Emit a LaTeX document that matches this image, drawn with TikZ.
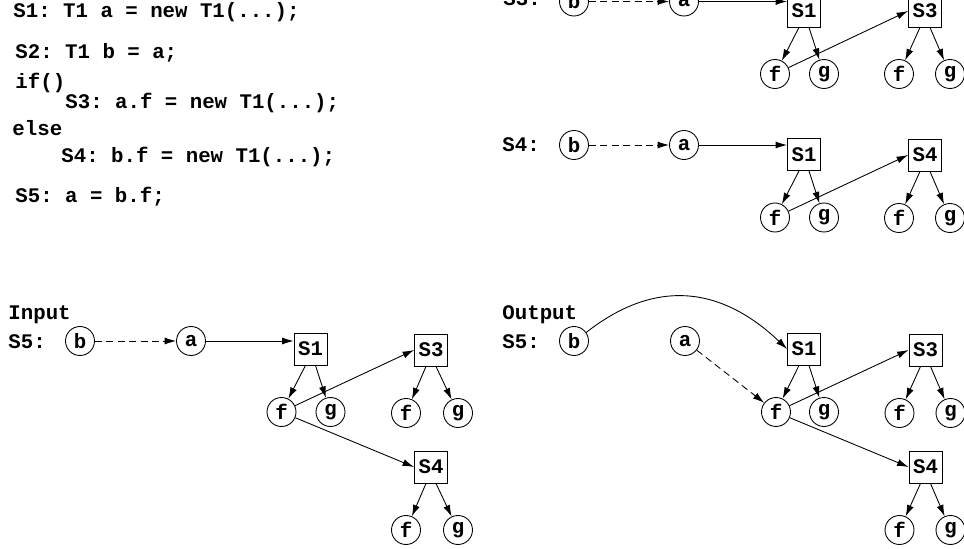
\documentclass[tikz,border=0pt]{standalone}
\usepackage{fontspec}
\setmonofont{Liberation Mono}
\usepackage{tikz}
\usetikzlibrary{arrows.meta,calc,positioning}

\tikzset{
  obj/.style={draw, rectangle, minimum width=0.66cm, minimum height=0.64cm, inner sep=0pt},
  var/.style={draw, circle, minimum size=0.58cm, inner sep=0pt},
  fld/.style={var},
  code/.style={anchor=west, inner sep=0pt},
  ref/.style={->},
  alias/.style={->, dash pattern=on 4pt off 2.5pt},
}

% object box with its two fields f and g hanging below
\newcommand{\heapobj}[5]{% name, label, box position, x offset of f, x offset of g
  \node[obj] (#1) at (#3) {#2};
  \node[fld] (#1f) at ($(#1)+(#4,63)$) {f};
  \node[fld] (#1g) at ($(#1)+(#5,63)$) {g};
  \draw[ref] ([xshift=-0.1cm]#1.south) -- (#1f);
  \draw[ref] ([xshift=0.1cm]#1.south) -- (#1g);
}

\begin{document}
\begin{tikzpicture}
      [ x=0.02cm, y=-0.02cm, line width=0.5pt,
        >={Latex[length=6.5pt,width=4pt]},
        every node/.style={font=\fontsize{11.8}{14}\selectfont\ttfamily\bfseries}
      ]
      \clip (0,0) rectangle (964,548);

      % the program
      \node[code] (l1) at (13,12)  {S1: T1 a = new T1(...);};
      \node[code] (l2) at (15,53)  {S2: T1 b = a;};
      \node[code] (l3) at (15,83)  {if()};
      \node[code] (l4) at (65,103) {S3: a.f = new T1(...);};
      \node[code] (l5) at (12,128) {else};
      \node[code] (l6) at (61,157) {S4: b.f = new T1(...);};
      \node[code] (l7) at (15,197) {S5: a = b.f;};

      % after S3
      \node[code] (tlbl) at (503,-1) {S3:};
      \node[var]  (tb)   at (574,1.5) {b};
      \node[var]  (ta)   at (684,1.5) {a};
      \heapobj{tA}{S1}{804,11}{-29}{20}
      \heapobj{tB}{S3}{925,11}{-26}{25}
      \draw[alias] (tb) -- (ta);
      \draw[ref]   (ta) -- (ta -| tA.west);
      \draw[ref]   (tAf) -- (tB.west);

      % after S4
      \node[code] (mlbl) at (502,145) {S4:};
      \node[var]  (mb)   at (574,145) {b};
      \node[var]  (ma)   at (684,145) {a};
      \heapobj{mA}{S1}{804,154.5}{-29}{20}
      \heapobj{mB}{S4}{925,155}{-26}{25}
      \draw[alias] (mb) -- (ma);
      \draw[ref]   (ma) -- (ma -| mA.west);
      \draw[ref]   (mAf) -- (mB.west);

      % input to S5
      \node[code] (ilbl) at (8,315) {Input};
      \node[code] (istm) at (8,342) {S5:};
      \node[var]  (ib)   at (80,341)  {b};
      \node[var]  (ia)   at (191,341) {a};
      \heapobj{iA}{S1}{310.5,349}{-29}{20}
      \heapobj{iB}{S3}{431,350}{-25}{27}
      \heapobj{iC}{S4}{431,467}{-25}{27}
      \draw[alias] (ib) -- (ia);
      \draw[ref]   (ia) -- (ia -| iA.west);
      \draw[ref]   (iAf) -- (iB.west);
      \draw[ref]   (iAf) -- (iC.west);

      % output of S5
      \node[code] (olbl) at (502,315) {Output};
      \node[code] (ostm) at (502,342) {S5:};
      \node[var]  (ob)   at (574,341) {b};
      \node[var]  (oa)   at (685,341) {a};
      \heapobj{oA}{S1}{804,349}{-28}{20}
      \heapobj{oB}{S3}{925.5,350}{-26}{25}
      \heapobj{oC}{S4}{925.5,467}{-26}{25}
      \draw[ref]   (ob.35) .. controls +(70,-55) and +(-65,-62) .. (oA.west);
      \draw[alias] (oa) -- (oAf);
      \draw[ref]   (oAf) -- (oB.west);
      \draw[ref]   (oAf) -- (oC.west);
\end{tikzpicture}
\end{document}
